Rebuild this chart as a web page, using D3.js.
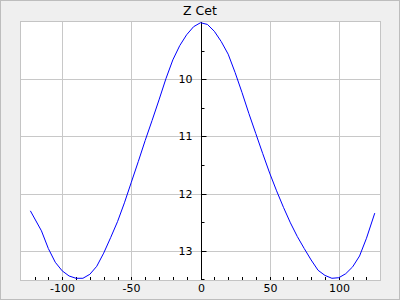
<!DOCTYPE html>
<html><head><meta charset="utf-8">
<script src="https://cdn.jsdelivr.net/npm/d3@7"></script>
<style>html,body{margin:0;padding:0;background:#efefef;}svg{display:block;}</style>
</head><body>
<script>
const title = "Z Cet";
const phase = [-123,-115,-110,-105,-100,-95,-90,-85,-80,-75,-70,-65,-60,-55,-50,-45,-40,-35,-30,-25,-20,-15,-10,-5,0,5,10,15,20,25,30,35,40,45,50,55,60,65,70,75,80,85,90,95,100,105,110,115,120,126];
const mag = [12.30,12.65,12.96,13.20,13.35,13.44,13.48,13.48,13.41,13.27,13.04,12.77,12.49,12.16,11.80,11.44,11.07,10.72,10.36,9.99,9.66,9.41,9.22,9.08,9.01,9.04,9.16,9.34,9.56,9.88,10.23,10.60,10.95,11.30,11.64,11.95,12.24,12.51,12.75,12.96,13.16,13.34,13.43,13.48,13.47,13.40,13.28,13.09,12.78,12.34];
const xLabelTicks = [-100,-50,0,50,100];
const xMinorTicks = [-120,-110,-100,-90,-80,-70,-60,-50,-40,-30,-20,-10,10,20,30,40,50,60,70,80,90,100,110,120];
const yLabelTicks = [10,11,12,13];
const yMinorTicks = [9.5,10.5,11.5,12.5,13.5];
const xDomain = [-130.5,130.5];
const yDomain = [8.98,13.51];

const W=400,H=300, L=20, R=381, T=21, B=280;
const svg = d3.select("body").append("svg").attr("width",W).attr("height",H);
svg.append("rect").attr("x",0.5).attr("y",0.5).attr("width",W-1).attr("height",H-1)
  .attr("fill","#efefef").attr("stroke","#bdbdbd");
const x = d3.scaleLinear().domain(xDomain).range([L,R]);
const y = d3.scaleLinear().domain(yDomain).range([T,B]);
svg.append("rect").attr("x",L+0.5).attr("y",T+0.5).attr("width",R-L-1).attr("height",B-T)
  .attr("fill","#ffffff").attr("stroke","#c4c4c4");

const grid = svg.append("g").attr("stroke","#c8c8c8").attr("stroke-width",1);
xLabelTicks.filter(v=>v!==0).forEach(v=>{
  const px=Math.round(x(v))+0.5;
  grid.append("line").attr("x1",px).attr("x2",px).attr("y1",T+1).attr("y2",B);
});
yLabelTicks.forEach(v=>{
  const py=Math.round(y(v))+0.5;
  grid.append("line").attr("x1",L+1).attr("x2",R-1).attr("y1",py).attr("y2",py);
});

// x axis ticks along bottom (pointing up)
const xt = svg.append("g").attr("stroke","#000");
xMinorTicks.forEach(v=>{
  const px=Math.round(x(v))+0.5;
  xt.append("line").attr("x1",px).attr("x2",px).attr("y1",B-3).attr("y2",B);
});
svg.append("g").selectAll("text").data(xLabelTicks).join("text")
  .attr("x",d=>Math.round(x(d))+0.5).attr("y",292)
  .attr("text-anchor","middle").attr("font-family","DejaVu Sans").attr("font-size",11)
  .attr("fill","#000").text(d=>d);

// y axis at x=0
const x0 = Math.round(x(0))+0.5;
svg.append("line").attr("x1",x0).attr("x2",x0).attr("y1",T+1).attr("y2",B).attr("stroke","#000");
const yt = svg.append("g").attr("stroke","#000");
yLabelTicks.forEach(v=>{
  const py=Math.round(y(v))+0.5;
  yt.append("line").attr("x1",x0).attr("x2",x0+5).attr("y1",py).attr("y2",py);
});
yMinorTicks.forEach(v=>{
  const py=Math.round(y(v))+0.5;
  yt.append("line").attr("x1",x0).attr("x2",x0+3).attr("y1",py).attr("y2",py);
});
svg.append("g").selectAll("text").data(yLabelTicks).join("text")
  .attr("x",x0-9).attr("y",d=>y(d)+4)
  .attr("text-anchor","end").attr("font-family","DejaVu Sans").attr("font-size",11)
  .attr("fill","#000").text(d=>d);

// curve
const pts = phase.map((p,i)=>[p,mag[i]]);
svg.append("path").datum(pts)
  .attr("d",d3.line().x(d=>x(d[0])).y(d=>y(d[1])))
  .attr("fill","none").attr("stroke","#0000ff").attr("stroke-width",1);

svg.append("text").attr("x",200).attr("y",15).attr("text-anchor","middle")
  .attr("font-family","DejaVu Sans").attr("font-size",12.5).attr("fill","#000").text(title);
</script>
</body></html>
